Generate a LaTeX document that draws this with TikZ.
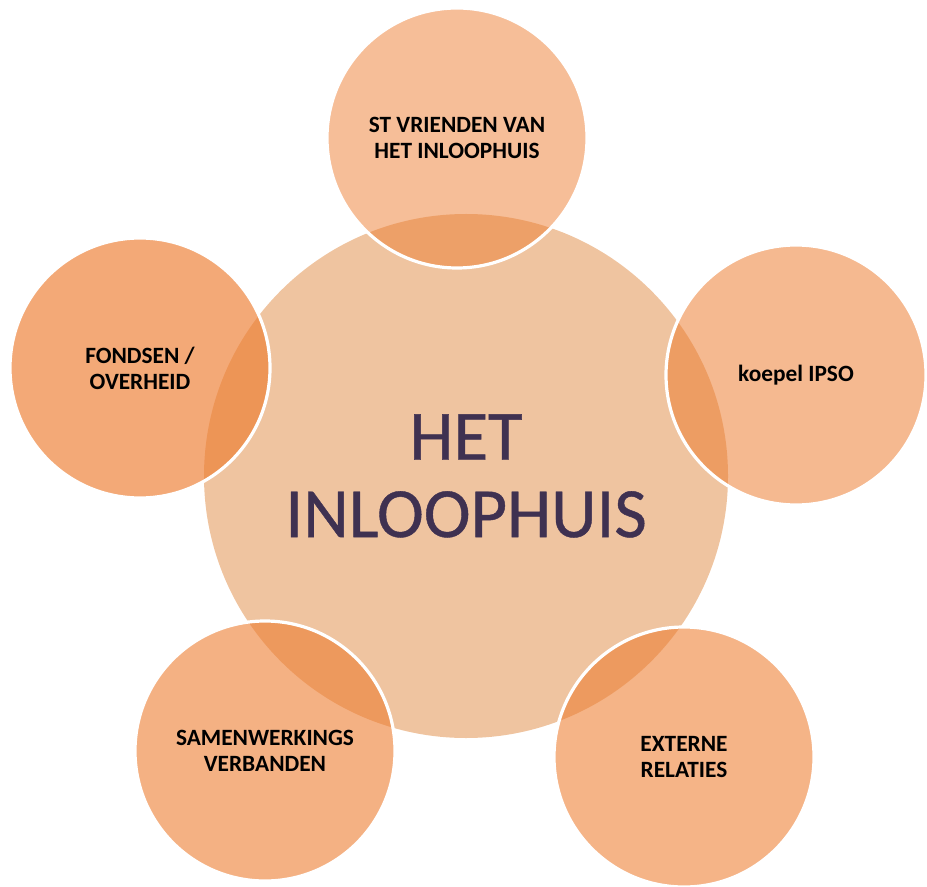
\documentclass[tikz,border=0pt]{standalone}
\usepackage{fontspec}
\setmainfont{Carlito}
\newfontfamily\hubfont[FakeBold=0.6]{Carlito}
\usepackage{xcolor}
\usepackage{tikz}
\usetikzlibrary{positioning, calc}
\definecolor{nodeorange}{RGB}{237, 125, 49}
\definecolor{hubpeach}{RGB}{239, 196, 160}
\definecolor{hubtext}{RGB}{63, 49, 81}

\begin{document}
\begin{tikzpicture}[x=0.75pt, y=-0.75pt,
    hub/.style={circle, fill=hubpeach, inner sep=0pt, outer sep=0pt, minimum size=393pt,
        text=hubtext, font=\hubfont\fontsize{53}{58}\selectfont, align=center},
    partner/.style={circle, draw=white, line width=2.4pt, fill=nodeorange, text opacity=1,
        inner sep=0pt, outer sep=0pt, minimum size=195pt, text=black,
        font=\bfseries\fontsize{17.5}{19.5}\selectfont, align=center}]
    \useasboundingbox (0,0) rectangle (927,887);

    % midden
    \node[hub] (hart) at (466,476) {HET\\INLOOPHUIS};

    % vijf partners rondom
    \node[partner, fill opacity=0.50] (vrienden) at (457,138) {ST VRIENDEN VAN\\HET INLOOPHUIS};
    \node[partner, fill opacity=0.54] (ipso) at (796,375) {koepel IPSO};
    \node[partner, fill opacity=0.58] (extern) at (684,757) {EXTERNE\\RELATIES};
    \node[partner, fill opacity=0.60] (samen) at (265,751) {SAMENWERKINGS\\VERBANDEN};
    \node[partner, fill opacity=0.66] (fondsen) at (140,368) {FONDSEN /\\OVERHEID};
\end{tikzpicture}
\end{document}
